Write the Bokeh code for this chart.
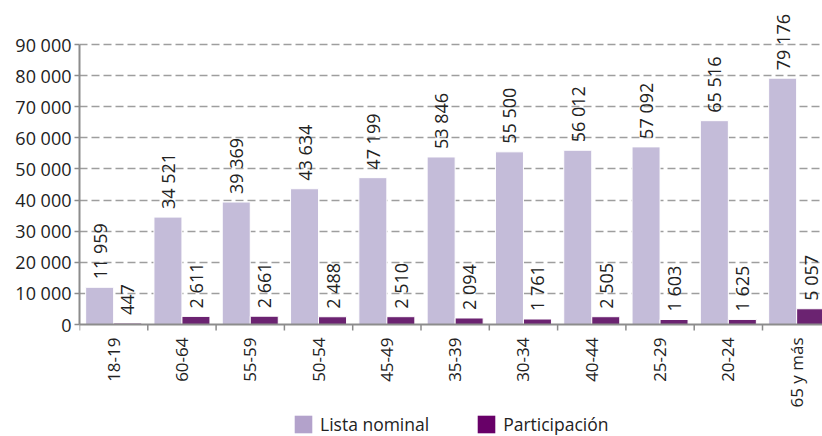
import numpy as np
from bokeh.plotting import figure
from bokeh.models import (ColumnDataSource, Range1d, FixedTicker, Legend, LegendItem, Grid)
from bokeh.core.properties import value
from bokeh.embed import file_html
from bokeh.resources import INLINE

categories = ["18-19", "60-64", "55-59", "50-54", "45-49", "35-39",
              "30-34", "40-44", "25-29", "20-24", "65 y más"]
lista_nominal = [11959, 34521, 39369, 43634, 47199, 53846,
                 55500, 56012, 57092, 65516, 79176]
participacion = [447, 2611, 2661, 2488, 2510, 2094,
                 1761, 2505, 1603, 1625, 5057]
y_ticks = [0, 10000, 20000, 30000, 40000, 50000, 60000, 70000, 80000, 90000]

FONT = "Open Sans"
C_LISTA = "#C4BCD9"
C_PART = "#6B2371"
C_LISTA_LEG = "#B3A2CB"
C_PART_LEG = "#680068"
TXT = "#222222"
AXIS_C = "#8C8C8C"

def fmt(v):
    return f"{v:,}".replace(",", " ")

# geometry (pixels)
LEFT = 79          # frame left
TOP = 8            # frame top
ZERO_PX = 324      # pixel row of y = 0
TOP_TICK_PX = 44   # pixel row of y = 90 000
FRAME_H = 436 - TOP
FRAME_W = 822 - LEFT
CAT_W = 68.3
TICK_LEN = 6

units_per_px = y_ticks[-1] / (ZERO_PX - TOP_TICK_PX)
y_end = (ZERO_PX - TOP) * units_per_px
y_start = -(TOP + FRAME_H - ZERO_PX) * units_per_px

n = len(categories)
idx = np.arange(n)
src = ColumnDataSource(dict(
    xl=idx + 0.5 - 0.205,
    xp=idx + 0.5 + 0.205,
    xc=idx + 0.5,
    zero=np.zeros(n),
    cat=categories,
    lista=lista_nominal,
    part=participacion,
    lista_lbl=[fmt(v) for v in lista_nominal],
    part_lbl=[fmt(v) for v in participacion],
))
bounds = np.arange(n + 1)
tick_src = ColumnDataSource(dict(x=bounds, y0=np.zeros(n + 1),
                                 y1=np.full(n + 1, -TICK_LEN * units_per_px)))

p = figure(frame_width=FRAME_W, frame_height=FRAME_H,
           x_range=Range1d(0, FRAME_W / CAT_W), y_range=Range1d(y_start, y_end),
           output_backend="svg", toolbar_location=None, x_axis_location=None,
           min_border_left=LEFT, min_border_top=TOP, min_border_right=0,
           min_border_bottom=0)
p.outline_line_color = None
p.background_fill_color = "white"

# grid
p.xgrid.visible = False
p.ygrid.ticker = FixedTicker(ticks=y_ticks[1:])
p.ygrid.grid_line_color = "#9E9E9E"
p.ygrid.grid_line_dash = "8 4"
p.ygrid.grid_line_width = 1.5

r1 = p.vbar(x="xl", top="lista", width=0.41, source=src,
            fill_color=C_LISTA, line_color="white", line_width=1)
r2 = p.vbar(x="xp", top="part", width=0.41, source=src,
            fill_color=C_PART, line_color="white", line_width=1)

# hidden twins, used only for the legend swatch colours
l1 = p.vbar(x="xl", top="lista", width=0.41, source=src,
            fill_color=C_LISTA_LEG, line_color=None, visible=False)
l2 = p.vbar(x="xp", top="part", width=0.41, source=src,
            fill_color=C_PART_LEG, line_color=None, visible=False)

# x axis line at y = 0 and category boundary ticks
p.add_layout(Grid(dimension=1, ticker=FixedTicker(ticks=[0]),
                  grid_line_color=AXIS_C, grid_line_width=2, level="overlay"))
p.segment(x0="x", y0="y0", x1="x", y1="y1", source=tick_src,
          line_color=AXIS_C, line_width=1.5)

for xcol, ycol, tcol in (("xl", "lista", "lista_lbl"), ("xp", "part", "part_lbl")):
    p.text(x=xcol, y=ycol, text=tcol, source=src, angle=np.pi / 2,
           text_align="left", text_baseline="middle", y_offset=-8,
           text_font=value(FONT), text_font_size="18px", text_color=TXT)

# category labels
p.text(x="xc", y="zero", text="cat", source=src, angle=np.pi / 2,
       text_align="right", text_baseline="middle", y_offset=13,
       text_font=value(FONT), text_font_size="17px", text_color=TXT)

# y axis
p.yaxis.bounds = (y_ticks[0], y_ticks[-1])
p.yaxis.ticker = FixedTicker(ticks=y_ticks)
p.yaxis.major_label_overrides = {t: fmt(t) for t in y_ticks}
p.yaxis.major_tick_out = 5
p.yaxis.major_tick_in = 0
p.yaxis.minor_tick_line_color = None
p.yaxis.major_tick_line_color = AXIS_C
p.yaxis.major_tick_line_width = 1.5
p.yaxis.axis_line_color = AXIS_C
p.yaxis.axis_line_width = 2
p.yaxis.major_label_standoff = 3
p.yaxis.major_label_text_font = FONT
p.yaxis.major_label_text_font_size = "18px"
p.yaxis.major_label_text_color = TXT

legend = Legend(items=[LegendItem(label="Lista nominal", renderers=[l1]),
                       LegendItem(label="Participación", renderers=[l2])],
                orientation="horizontal", location=(293 - 1 - LEFT, 0),
                border_line_color=None, background_fill_alpha=0,
                label_text_font=FONT, label_text_font_size="17.5px",
                label_text_color=TXT,
                glyph_width=22, glyph_height=22, spacing=46,
                label_standoff=6, padding=1, margin=0)
p.add_layout(legend, "center")

open("out.html", "w").write(file_html(p, INLINE))
